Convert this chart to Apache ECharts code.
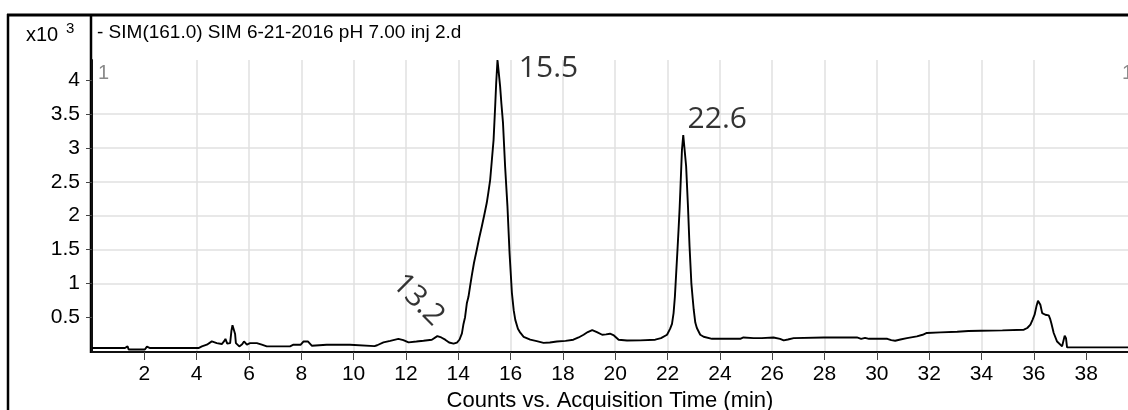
<!DOCTYPE html>
<html>
<head>
<meta charset="utf-8">
<script src="https://cdn.jsdelivr.net/npm/echarts@6/dist/echarts.min.js"></script>
<style>
  html, body { margin: 0; padding: 0; background: #fff; }
  #chart { width: 1128px; height: 410px; }
</style>
</head>
<body>
<div id="chart"></div>
<script>
// SIM(161.0) trace, acquisition time in minutes, counts in units of 10^3
const retentionTime = [
  0.0, 1.26, 1.30, 1.36, 1.40, 2.02, 2.10, 2.16, 2.22, 4.07,
  4.20, 4.39, 4.58, 4.77, 4.96, 5.06, 5.10, 5.17, 5.28, 5.33,
  5.37, 5.43, 5.47, 5.50, 5.63, 5.74, 5.81, 5.92, 6.04, 6.30,
  6.49, 6.68, 7.57, 7.70, 7.98, 8.08, 8.15, 8.25, 8.40, 8.97,
  9.86, 9.90, 10.80, 10.90, 11.14, 11.40, 11.71, 11.90, 12.10, 12.40,
  12.67, 12.99, 13.20, 13.35, 13.50, 13.65, 13.82, 13.95, 14.05, 14.14,
  14.20, 14.26, 14.33, 14.39, 14.45, 14.52, 14.60, 14.71, 14.80, 14.90,
  15.00, 15.09, 15.15, 15.22, 15.28, 15.35, 15.41, 15.45, 15.50, 15.56,
  15.60, 15.65, 15.71, 15.79, 15.88, 15.96, 16.05, 16.12, 16.18, 16.28,
  16.37, 16.50, 16.75, 17.00, 17.26, 17.50, 17.77, 18.10, 18.40, 18.60,
  18.79, 18.95, 19.12, 19.30, 19.50, 19.65, 19.80, 19.95, 20.13, 20.45,
  20.95, 21.53, 21.75, 21.98, 22.10, 22.17, 22.23, 22.28, 22.33, 22.38,
  22.42, 22.46, 22.49, 22.55, 22.60, 22.65, 22.71, 22.78, 22.84, 22.91,
  22.96, 23.00, 23.06, 23.12, 23.25, 23.38, 23.70, 24.20, 24.78, 24.90,
  25.29, 25.60, 26.05, 26.30, 26.44, 26.60, 26.82, 27.97, 29.24, 29.40,
  29.55, 29.70, 30.40, 30.55, 30.70, 30.90, 31.15, 31.53, 31.75, 31.91,
  32.43, 33.07, 33.50, 33.96, 34.80, 35.62, 35.75, 35.87, 35.95, 36.03,
  36.10, 36.16, 36.20, 36.25, 36.32, 36.44, 36.57, 36.62, 36.67, 36.76,
  36.89, 37.08, 37.14, 37.18, 37.23, 37.27, 39.60
];
const abundance = [
  0.044, 0.044, 0.068, 0.068, 0.022, 0.022, 0.064, 0.060, 0.044, 0.044,
  0.068, 0.093, 0.142, 0.117, 0.103, 0.150, 0.180, 0.108, 0.117, 0.300,
  0.380, 0.370, 0.250, 0.117, 0.068, 0.100, 0.142, 0.093, 0.117, 0.117,
  0.093, 0.068, 0.068, 0.093, 0.093, 0.140, 0.155, 0.142, 0.078, 0.093,
  0.093, 0.068, 0.072, 0.085, 0.127, 0.150, 0.180, 0.160, 0.127, 0.140,
  0.152, 0.167, 0.220, 0.200, 0.167, 0.125, 0.108, 0.125, 0.170, 0.260,
  0.400, 0.500, 0.710, 0.800, 0.950, 1.120, 1.300, 1.500, 1.670, 1.840,
  2.020, 2.190, 2.340, 2.530, 2.800, 3.120, 3.610, 3.960, 4.300, 4.290,
  3.910, 3.650, 3.370, 2.730, 2.140, 1.450, 0.860, 0.600, 0.460, 0.330,
  0.270, 0.210, 0.167, 0.145, 0.120, 0.125, 0.140, 0.150, 0.167, 0.200,
  0.240, 0.280, 0.310, 0.280, 0.240, 0.245, 0.255, 0.230, 0.167, 0.155,
  0.157, 0.167, 0.190, 0.240, 0.330, 0.400, 0.560, 0.800, 1.150, 1.500,
  1.790, 2.100, 2.380, 2.970, 3.190, 3.170, 2.730, 2.140, 1.550, 1.000,
  0.780, 0.610, 0.420, 0.340, 0.240, 0.210, 0.180, 0.180, 0.180, 0.200,
  0.190, 0.190, 0.200, 0.180, 0.157, 0.170, 0.190, 0.200, 0.200, 0.180,
  0.195, 0.180, 0.180, 0.160, 0.152, 0.170, 0.190, 0.216, 0.240, 0.266,
  0.275, 0.285, 0.295, 0.300, 0.305, 0.315, 0.340, 0.390, 0.460, 0.536,
  0.660, 0.743, 0.720, 0.684, 0.560, 0.536, 0.526, 0.480, 0.410, 0.266,
  0.140, 0.068, 0.093, 0.226, 0.190, 0.053, 0.053
];
// Annotated peak retention times (min)
const peakTimes = [13.2, 15.5, 22.6];

// Axis tick values
const xTickValues = [2, 4, 6, 8, 10, 12, 14, 16, 18, 20, 22, 24, 26, 28, 30, 32, 34, 36, 38];
const yTickValues = [0.5, 1, 1.5, 2, 2.5, 3, 3.5, 4];

const traceData = retentionTime.map((t, i) => [t, abundance[i]]);
const peakData = peakTimes.map(t => [t, abundance[retentionTime.indexOf(t)]]);

// Placement of each peak annotation relative to its apex
const peakLabelStyle = [
  { offset: [-39, -12], rotate: -45 },
  { offset: [51, 8], rotate: 0 },
  { offset: [34, -16], rotate: 0 }
];

const axisFont = 'Liberation Sans, Arial, sans-serif';

const chart = echarts.init(document.getElementById('chart'), null, { renderer: 'canvas' });

chart.setOption({
  animation: false,
  backgroundColor: '#ffffff',
  grid: {
    left: 92, right: 0, top: 60, bottom: 59,
    containLabel: false,
    outerBoundsMode: 'none'
  },
  xAxis: {
    type: 'value',
    min: 0, max: 39.6, interval: 2,
    offset: 1,
    name: 'Counts vs. Acquisition Time (min)',
    nameLocation: 'middle',
    nameGap: 27,
    nameTextStyle: { fontFamily: axisFont, fontSize: 22, color: '#000' },
    axisLine: { show: true, onZero: false, lineStyle: { color: '#111', width: 2 } },
    axisTick: { show: true, length: 8, customValues: xTickValues, lineStyle: { color: '#444', width: 1 } },
    axisLabel: {
      customValues: xTickValues,
      margin: 12,
      fontFamily: axisFont, fontSize: 21, color: '#000'
    },
    splitLine: { show: true, showMinLine: false, showMaxLine: false, lineStyle: { color: '#e0e0e0', width: 1.5 } }
  },
  yAxis: {
    type: 'value',
    min: 0, max: 4.3, interval: 0.5,
    axisLine: { show: true, lineStyle: { color: '#111', width: 2 } },
    axisTick: { show: true, length: 6, customValues: yTickValues, lineStyle: { color: '#444', width: 1 } },
    axisLabel: {
      customValues: yTickValues,
      margin: 12,
      fontFamily: axisFont, fontSize: 21, color: '#000',
      formatter: v => String(v)
    },
    splitLine: { show: true, showMinLine: false, showMaxLine: false, lineStyle: { color: '#e0e0e0', width: 1.5 } }
  },
  series: [
    {
      name: 'SIM(161.0)',
      type: 'line',
      data: traceData,
      showSymbol: false,
      symbol: 'none',
      smooth: false,
      silent: true,
      lineStyle: { color: '#000', width: 1.9 },
      z: 3
    },
    {
      name: 'Peaks',
      type: 'scatter',
      data: peakData.map((p, i) => ({
        value: p,
        label: {
          offset: peakLabelStyle[i].offset,
          rotate: peakLabelStyle[i].rotate
        }
      })),
      symbolSize: 1,
      itemStyle: { color: 'rgba(0,0,0,0)' },
      silent: true,
      label: {
        show: true,
        position: 'inside',
        formatter: p => p.value[0].toFixed(1),
        fontFamily: 'Open Sans, Noto Sans, sans-serif',
        fontSize: 30,
        color: '#000'
      },
      z: 4
    }
  ],
  graphic: [
    // frame: outer border and the divider next to the scale
    { type: 'line', silent: true, shape: { x1: 8, y1: 14, x2: 8, y2: 410 }, style: { stroke: '#000', lineWidth: 2.5 } },
    { type: 'line', silent: true, shape: { x1: 7, y1: 15, x2: 1128, y2: 15 }, style: { stroke: '#000', lineWidth: 3 } },
    { type: 'line', silent: true, shape: { x1: 91, y1: 15, x2: 91, y2: 353 }, style: { stroke: '#000', lineWidth: 2.5 } },
    // trace title
    { type: 'text', silent: true, x: 97, y: 33,
      style: { text: '- SIM(161.0) SIM 6-21-2016 pH 7.00 inj 2.d', fill: '#000', font: '19px Liberation Sans, Arial, sans-serif', verticalAlign: 'middle' } },
    // scale multiplier
    { type: 'text', silent: true, x: 26, y: 35,
      style: { text: 'x10', fill: '#000', font: '20px Liberation Sans, Arial, sans-serif', verticalAlign: 'middle' } },
    { type: 'text', silent: true, x: 66, y: 29,
      style: { text: '3', fill: '#000', font: '15px Liberation Sans, Arial, sans-serif', verticalAlign: 'middle' } },
    // pane index markers
    { type: 'text', silent: true, x: 98, y: 73,
      style: { text: '1', fill: '#8a8a8a', font: '20px Liberation Sans, Arial, sans-serif', verticalAlign: 'middle' } },
    { type: 'text', silent: true, x: 1122, y: 73,
      style: { text: '1', fill: '#8a8a8a', font: '20px Liberation Sans, Arial, sans-serif', verticalAlign: 'middle' } }
  ]
});
</script>
</body>
</html>
